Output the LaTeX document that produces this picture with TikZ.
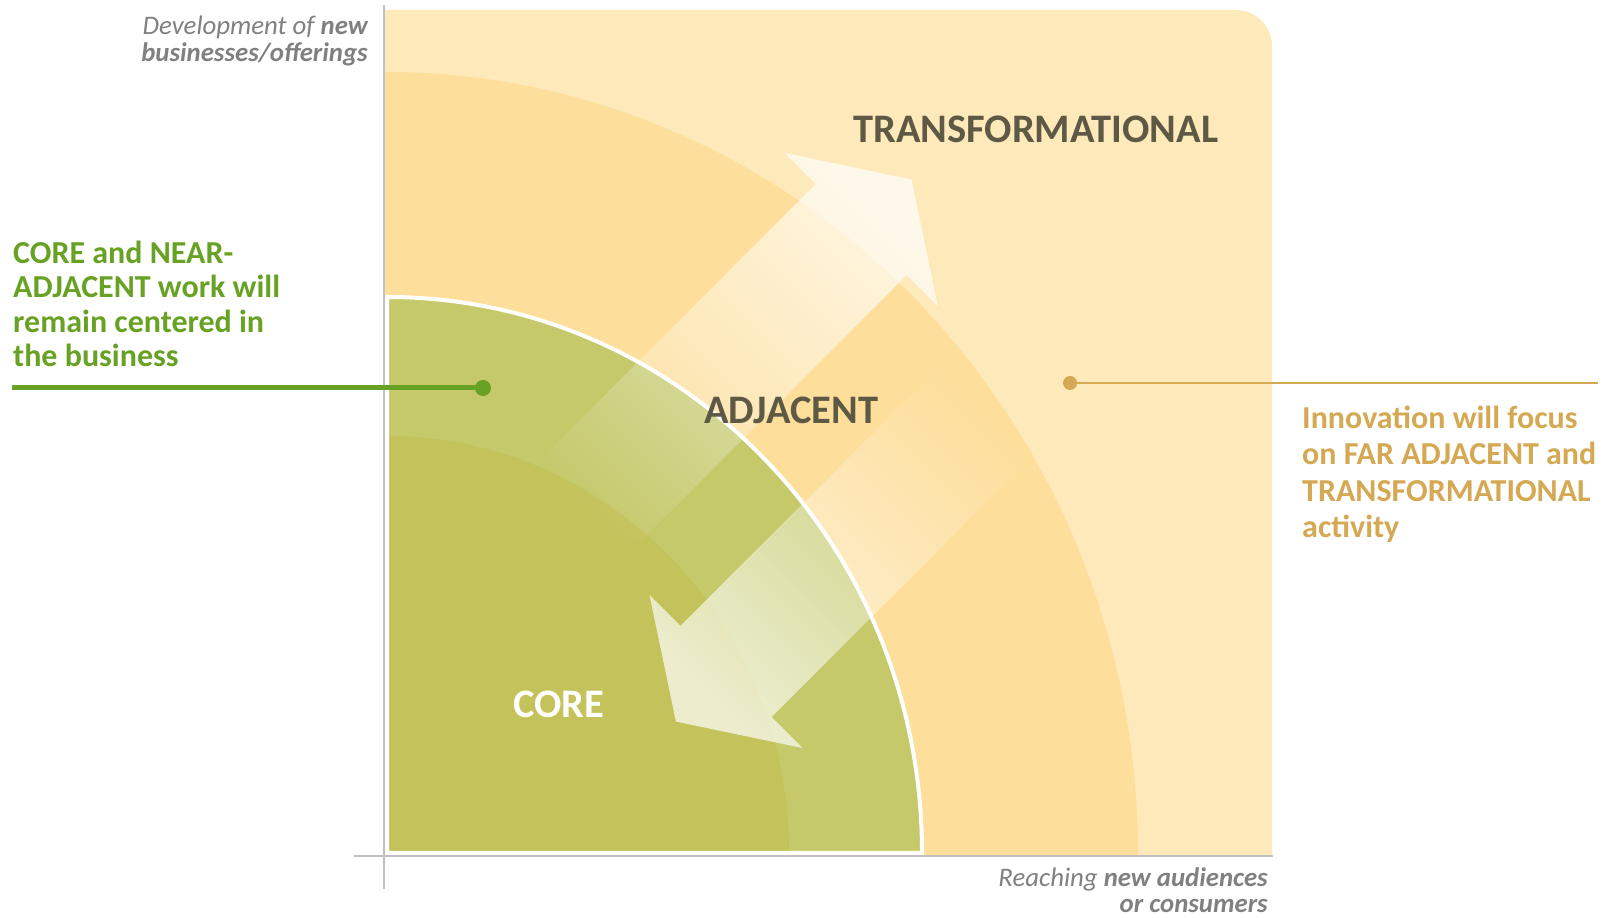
\documentclass[tikz,border=0pt]{standalone}
\usepackage{fontspec}
\setmainfont{Carlito}
\usetikzlibrary{fadings}

\definecolor{zonelight}{RGB}{254,233,187}
\definecolor{zonefar}{RGB}{253,222,154}
\definecolor{coreouter}{RGB}{197,201,106}
\definecolor{coreinner}{RGB}{196,194,90}
\definecolor{axisgray}{RGB}{192,192,192}
\definecolor{labelgray}{RGB}{128,128,128}
\definecolor{labeldark}{RGB}{94,89,68}
\definecolor{callgreen}{RGB}{104,162,36}
\definecolor{callgold}{RGB}{213,169,84}

\tikzfading[name=arrowfade, left color=transparent!100, right color=transparent!30]

\tikzset{
  axisline/.style={draw=axisgray, line width=2.5},
  zonelabel/.style={font=\bfseries\fontsize{40.5}{44}\selectfont, inner sep=0, anchor=base west},
  callout/.style={font=\bfseries\fontsize{32}{34.5}\selectfont, inner sep=0, align=left, anchor=base west},
  axislabel/.style={font=\itshape\fontsize{26.8}{27}\selectfont, text=labelgray, inner sep=0, align=right, anchor=base east},
  bigarrow/.style={fill=white, path fading=arrowfade, fit fading=true},
}

\newcommand{\arrowshape}[1]{%
  (0,-64.5) -- (#1,-64.5) -- (#1,-108.5) -- ({#1+71},0) -- (#1,108.5) -- (#1,64.5) -- (0,64.5) -- cycle}
\newcommand{\corequarter}{%
  (387,65) -- (387,621) arc[start angle=90, end angle=0, x radius=535, y radius=556] -- cycle}

\begin{document}
\begin{tikzpicture}[x=1pt,y=1pt]
\useasboundingbox (0,0) rectangle (1612,918);

% transformational zone: background with rounded top-right corner
\fill[zonelight] (385,63) -- (385,908) -- (1236,908)
  arc[start angle=90, end angle=0, radius=36] -- (1272,63) -- cycle;

% far-adjacent zone
\fill[zonefar] (385,63) -- (385,846)
  arc[start angle=90, end angle=0, x radius=753, y radius=783] -- cycle;

% core and near-adjacent zone
\fill[coreouter] \corequarter;
\fill[coreinner] (387,65) -- (387,482)
  arc[start angle=90, end angle=0, x radius=402, y radius=417] -- cycle;
\draw[white, line width=4] \corequarter;

% outward arrow
\begin{scope}[shift={(563,391)}, rotate=45]
  \fill[bigarrow, fading angle=45] \arrowshape{422};
\end{scope}

% inward arrow
\begin{scope}[shift={(1002.5,522.5)}, rotate=225]
  \fill[bigarrow, fading angle=225] \arrowshape{391};
\end{scope}

% axes
\coordinate (ytop) at (384,913);
\coordinate (ybot) at (384,29);
\coordinate (xleft) at (354,62);
\coordinate (xright) at (1273,62);
\draw[axisline] (ytop) -- (ybot);
\draw[axisline] (xleft) -- (xright);

% axis labels (anchored at the baseline of the last line)
\node[axislabel] (ylab) at (368,856)
  {Development of \textbf{new}\\\textbf{businesses/offerings}};
\node[axislabel, font=\itshape\fontsize{26.8}{26}\selectfont] (xlab) at (1268,5)
  {Reaching \textbf{new audiences}\\\textbf{or consumers}};

% zone labels
\node[zonelabel, text=labeldark] (trans) at (853,775) {TRANSFORMATIONAL};
\node[zonelabel, text=labeldark] (adj) at (704,494.5) {ADJACENT};
\node[zonelabel, text=white] (core) at (513,200) {CORE};

% left callout
\node[callout, text=callgreen] (gtext) at (13,551)
  {CORE and NEAR-\\ADJACENT work will\\remain centered in\\the business};
\coordinate (gstart) at (12,530);
\node[circle, fill=callgreen, minimum size=16, inner sep=0] (gdot) at (483,530) {};
\draw[callgreen, line width=5] (gstart) -- (gdot.center);

% right callout
\node[callout, text=callgold, font=\bfseries\fontsize{32}{36.5}\selectfont] (otext) at (1302,380)
  {Innovation will focus\\on FAR ADJACENT and\\TRANSFORMATIONAL\\activity};
\coordinate (oend) at (1598,535);
\node[circle, fill=callgold, minimum size=14, inner sep=0] (odot) at (1070,535) {};
\draw[callgold, line width=2.5] (odot.center) -- (oend);

\end{tikzpicture}
\end{document}
